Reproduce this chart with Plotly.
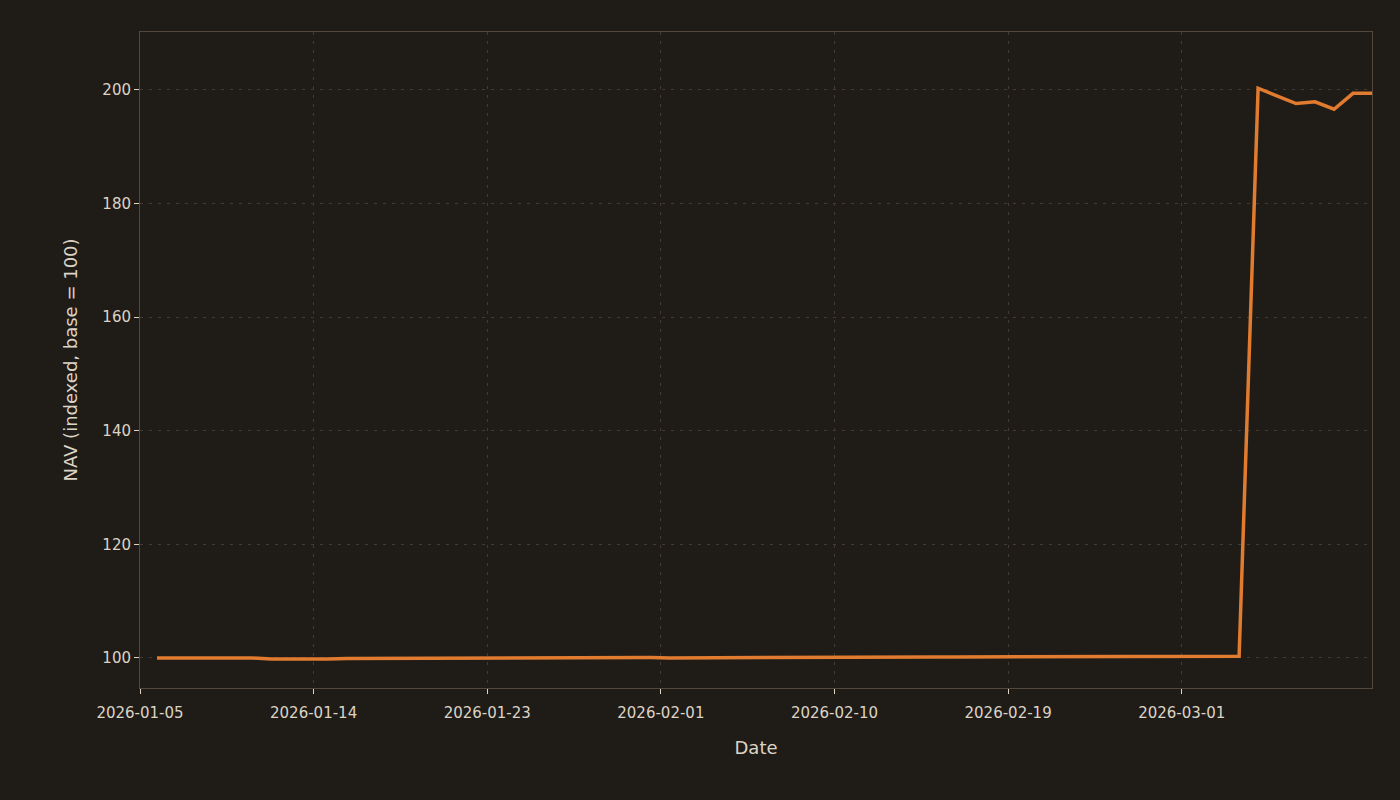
import pandas as pd
import plotly.graph_objects as go

# ---- data ----
start_date = "2026-01-06"
nav_values = [
    100.0, 100.0, 100.0, 100.0, 100.0, 100.0, 99.8, 99.78, 99.83, 99.82,
    99.88, 99.9, 99.9, 99.86, 99.88, 99.88, 99.88, 100.0, 100.02, 100.02,
    99.96, 99.97, 99.99, 100.0, 100.06, 100.07, 100.06, 100.0, 100.02, 100.02,
    100.06, 100.12, 100.12, 100.12, 100.1, 100.08, 100.1, 100.1, 100.18, 100.2,
    100.2, 100.18, 100.15, 100.15, 100.15, 100.23, 100.25, 100.25, 100.23, 100.22,
    100.22, 100.28, 100.26, 100.26, 100.27, 100.3, 100.28, 100.3, 200.3, 199.0,
    197.6, 197.9, 196.6, 199.4, 199.4,
]
dates = pd.date_range(start_date, periods=len(nav_values), freq="D")

tick_labels = ["2026-01-05", "2026-01-14", "2026-01-23", "2026-02-01",
               "2026-02-10", "2026-02-19", "2026-03-01"]
y_ticks = [100, 120, 140, 160, 180, 200]

# axis range / tick placement
x_start = pd.Timestamp("2026-01-05 02:28")
x_end = pd.Timestamp("2026-03-11 00:00")
tick_step = pd.Timedelta(hours=219.5)
tick_positions = [x_start + i * tick_step for i in range(len(tick_labels))]

BG = "#1f1c18"
LINE = "#e07b2f"
GRID = "#433b33"
FRAME = "#54493e"
TXT = "#ddd3c5"

fig = go.Figure()
fig.add_trace(go.Scatter(
    x=dates, y=nav_values, mode="lines",
    line=dict(color=LINE, width=3.5),
    hoverinfo="x+y", showlegend=False,
))

fig.update_layout(
    width=1400, height=800,
    paper_bgcolor=BG, plot_bgcolor=BG,
    margin=dict(l=140, r=28, t=32, b=112),
    font=dict(family="DejaVu Sans", color=TXT, size=15),
)
common = dict(
    showgrid=True, gridcolor=GRID, griddash="3px,6px", gridwidth=1,
    showline=True, linecolor=FRAME, linewidth=1, mirror=True,
    ticks="outside", ticklen=5, tickcolor=TXT, tickwidth=1,
    tickfont=dict(size=15, color=TXT), zeroline=False,
)
fig.update_xaxes(
    range=[x_start, x_end],
    tickmode="array", tickvals=tick_positions, ticktext=tick_labels,
    ticklabelstandoff=6,
    title=dict(text="Date", font=dict(size=18, color=TXT), standoff=20),
    **common,
)
fig.update_yaxes(
    range=[94.7, 210.2],
    tickmode="array", tickvals=y_ticks,
    title=dict(text="NAV (indexed, base = 100)", font=dict(size=18, color=TXT), standoff=20),
    **common,
)

fig.write_html(
    "out.html",
    config={"displayModeBar": False},
    post_script="document.body.style.margin='0';document.body.style.background='#1f1c18';",
)
